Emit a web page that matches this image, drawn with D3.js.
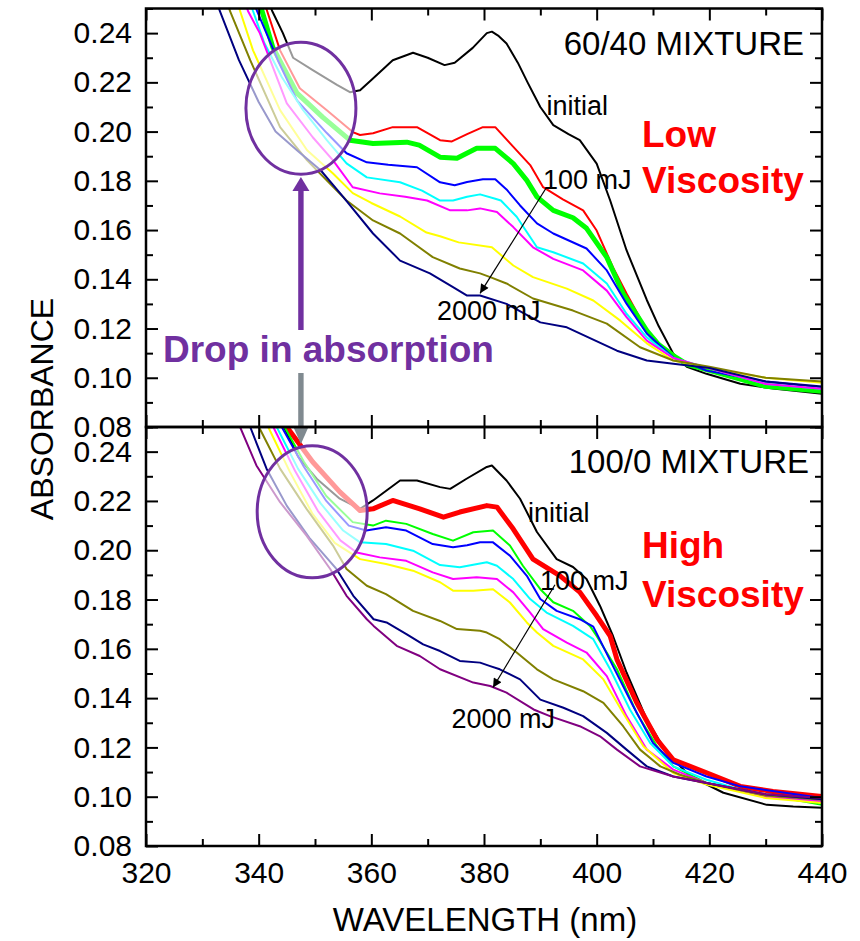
<!DOCTYPE html>
<html>
<head>
<meta charset="utf-8">
<script src="https://cdn.jsdelivr.net/npm/d3@7"></script>
<style>
  body { margin: 0; background: #fff; }
  text { font-family: "Liberation Sans", Arial, sans-serif; }
</style>
</head>
<body>
<svg id="chart" width="860" height="941"></svg>
<script>
// axis ticks
const wlMajor = [320, 340, 360, 380, 400, 420, 440];
const wlMinor = [330, 350, 370, 390, 410, 430];
const absMajor = [0.08, 0.10, 0.12, 0.14, 0.16, 0.18, 0.20, 0.22, 0.24];
const absMinor = [0.09, 0.11, 0.13, 0.15, 0.17, 0.19, 0.21, 0.23, 0.25];

// 60/40 mixture (top panel): [wavelength nm, absorbance]
const top_initial = [[341, 0.257], [342.4, 0.249], [344.3, 0.240], [346.1, 0.230], [349.6, 0.225], [353.9, 0.219], [356.2, 0.216], [358, 0.2168], [360, 0.221], [363.8, 0.229], [367.4, 0.232], [370, 0.230], [373, 0.227], [374.8, 0.228], [378, 0.234], [380.5, 0.240], [381.4, 0.2406], [382.5, 0.239], [384, 0.2358], [386, 0.228], [387.8, 0.2197], [390, 0.210], [392.3, 0.2026], [395, 0.199], [397, 0.1965], [400, 0.187], [402.4, 0.172], [405.3, 0.1518], [408.9, 0.1316], [411, 0.121], [413.6, 0.1098], [416, 0.1045], [419.5, 0.1016], [425.5, 0.0976], [431.3, 0.0956], [440, 0.0935]];
const top_red = [[340, 0.259], [341.5, 0.249], [343.8, 0.233], [347.3, 0.2176], [352.1, 0.2087], [356.7, 0.1998], [358, 0.1986], [360.3, 0.1993], [363.8, 0.2018], [368.1, 0.2018], [372.2, 0.1965], [374.3, 0.196], [377, 0.199], [379.8, 0.2018], [382, 0.2018], [384.6, 0.1953], [388.2, 0.1864], [390.5, 0.1774], [394, 0.1725], [397.6, 0.168], [400, 0.1598], [402.9, 0.1448], [405.3, 0.1342], [408.9, 0.1192], [411, 0.113], [413.6, 0.109], [416, 0.106], [420, 0.1035], [430, 0.0975], [440, 0.095]];
const top_green = [[339.2, 0.259], [340.6, 0.249], [342.5, 0.2343], [346.8, 0.2156], [351.4, 0.2058], [356.2, 0.1965], [360.3, 0.1952], [366.3, 0.1957], [368.5, 0.1945], [372.2, 0.1896], [375.2, 0.1892], [378.7, 0.1932], [382, 0.1932], [385.2, 0.187], [387.6, 0.1802], [389.4, 0.1735], [392.3, 0.168], [395.8, 0.165], [398.2, 0.1607], [401.8, 0.1489], [404.7, 0.1342], [408.9, 0.1192], [411, 0.1135], [413.6, 0.109], [416, 0.1055], [420, 0.103], [430, 0.0965], [440, 0.0945]];
const top_blue = [[338.3, 0.259], [339.7, 0.249], [343.4, 0.229], [346.8, 0.2127], [352.1, 0.1994], [355.6, 0.1912], [359.2, 0.1875], [363, 0.1865], [368.1, 0.1855], [372.2, 0.1794], [374.8, 0.1782], [377, 0.1795], [379.8, 0.1806], [382, 0.1806], [384, 0.1765], [386.4, 0.170], [389.4, 0.1627], [392.3, 0.1586], [398.2, 0.1525], [401.8, 0.1436], [405.3, 0.1301], [408.9, 0.118], [413.6, 0.1082], [419.5, 0.1029], [430, 0.0985], [440, 0.096]];
const top_cyan = [[337.6, 0.259], [339, 0.249], [341, 0.236], [344.1, 0.2222], [347.9, 0.2087], [352.1, 0.1965], [355.6, 0.1871], [359.2, 0.1814], [365.1, 0.1794], [369, 0.176], [372.2, 0.172], [374.5, 0.172], [377, 0.1735], [379.3, 0.1745], [382, 0.1727], [383, 0.172], [385.8, 0.1654], [389.4, 0.153], [392.3, 0.151], [397.6, 0.1464], [401.8, 0.1383], [405.3, 0.126], [408.9, 0.1164], [413.6, 0.108], [420, 0.1038], [430, 0.0975], [440, 0.0955]];
const top_magenta = [[337, 0.257], [338.1, 0.249], [340.2, 0.240], [345, 0.2115], [349.6, 0.1977], [353.2, 0.1883], [356.7, 0.1774], [361.5, 0.1749], [366, 0.1735], [369.9, 0.172], [374, 0.168], [377, 0.168], [379.3, 0.1688], [382.3, 0.1673], [385.2, 0.1612], [388.7, 0.153], [392.3, 0.1483], [397.6, 0.1436], [401.8, 0.1354], [405.3, 0.1246], [408.9, 0.1151], [413.6, 0.108], [420, 0.1038], [430, 0.0975], [440, 0.0955]];
const top_yellow = [[335.5, 0.258], [336.7, 0.249], [339, 0.233], [343.8, 0.2087], [348.6, 0.1924], [353.2, 0.183], [356.7, 0.175], [360, 0.171], [365.1, 0.1655], [369.8, 0.159], [372.2, 0.1575], [375.5, 0.155], [381.4, 0.153], [385.2, 0.1456], [388.7, 0.1409], [394.7, 0.1362], [399.4, 0.1314], [404.2, 0.1232], [408.9, 0.114], [413.6, 0.107], [420, 0.104], [430, 0.100], [440, 0.098]];
const top_olive = [[334, 0.256], [334.9, 0.249], [338.5, 0.229], [343.8, 0.2018], [348.6, 0.1883], [355.6, 0.172], [360.3, 0.1639], [365.1, 0.1586], [370.9, 0.149], [375.7, 0.1444], [379.3, 0.1424], [381.1, 0.1409], [384, 0.1383], [388.7, 0.1322], [395.8, 0.1273], [401.8, 0.122], [407.7, 0.1124], [413.6, 0.107], [420, 0.1045], [430, 0.100], [440, 0.0985]];
const top_navy = [[332, 0.257], [333.1, 0.249], [336.5, 0.229], [340, 0.212], [343, 0.200], [347, 0.192], [351, 0.1843], [355, 0.1735], [360.3, 0.1586], [365.1, 0.1476], [370.4, 0.1424], [374.5, 0.1368], [377, 0.1334], [379.3, 0.1334], [384, 0.130], [390, 0.1225], [394.7, 0.1205], [403.6, 0.111], [408.9, 0.107], [413.6, 0.1057], [420, 0.104], [430, 0.0985], [440, 0.0965]];

// 100/0 mixture (bottom panel)
const bot_initial = [[343, 0.258], [344.5, 0.25], [347, 0.238], [350.3, 0.229], [354.4, 0.2209], [358, 0.2168], [360.3, 0.2202], [365.1, 0.2283], [368.1, 0.2283], [372.2, 0.2256], [374, 0.2249], [376.9, 0.229], [380.5, 0.2338], [381.4, 0.2344], [384, 0.2283], [386.4, 0.2209], [389.4, 0.2074], [392.9, 0.1964], [395.8, 0.1932], [398.2, 0.1883], [400.6, 0.1774], [402.9, 0.1652], [405.3, 0.1504], [408.9, 0.1313], [412.4, 0.1179], [416.6, 0.1083], [422.5, 0.1016], [430.2, 0.0967], [434.9, 0.096], [440, 0.0955]];
const bot_red = [[344, 0.257], [345, 0.25], [349.6, 0.2358], [354.4, 0.2237], [358, 0.2161], [360.3, 0.2168], [363.8, 0.2202], [368.6, 0.2168], [372.8, 0.2134], [375.7, 0.2155], [380.5, 0.2181], [382.3, 0.2175], [385.2, 0.2086], [388.7, 0.1964], [393.5, 0.1896], [397, 0.183], [400, 0.1734], [402.4, 0.1652], [403.6, 0.1557], [407.1, 0.1382], [410.7, 0.1232], [413.6, 0.115], [419.5, 0.1097], [425.5, 0.1042], [431.3, 0.1021], [440, 0.1001]];
const bot_green = [[343.5, 0.257], [344.6, 0.25], [348, 0.236], [352, 0.222], [356.7, 0.2114], [360.3, 0.210], [362.6, 0.212], [366.2, 0.2107], [370.9, 0.2066], [374.5, 0.2039], [378.1, 0.2073], [381.6, 0.208], [384.6, 0.2019], [386.9, 0.1937], [390, 0.1842], [392.3, 0.1789], [395.8, 0.1754], [398.8, 0.1693], [400, 0.1652], [403.6, 0.1517], [407.1, 0.134], [410.7, 0.1205], [413.6, 0.1123], [419.5, 0.1056], [428.4, 0.1015], [440, 0.0967]];
const bot_blue = [[343, 0.257], [344.1, 0.25], [348, 0.234], [352, 0.220], [356, 0.210], [359.1, 0.208], [362.6, 0.2093], [366.2, 0.208], [370.9, 0.2025], [374.5, 0.2012], [377, 0.202], [379.3, 0.2032], [381.6, 0.2032], [384.6, 0.1978], [387.6, 0.1896], [390, 0.1802], [392.9, 0.1754], [397, 0.172], [399.4, 0.169], [402.9, 0.153], [406.5, 0.1367], [410, 0.1218], [413.6, 0.1137], [419.5, 0.1082], [425.5, 0.1042], [440, 0.0995]];
const bot_cyan = [[342, 0.257], [343.2, 0.25], [347, 0.233], [351, 0.219], [355, 0.208], [358, 0.2032], [362.6, 0.2025], [367.4, 0.1998], [372.2, 0.194], [375.7, 0.1931], [380.5, 0.1951], [382.3, 0.1937], [385.2, 0.1883], [388.2, 0.1802], [391.1, 0.1747], [395.8, 0.1693], [399.4, 0.1639], [402.4, 0.1517], [405.9, 0.1354], [409.5, 0.1218], [413.6, 0.1123], [419.5, 0.1069], [430, 0.100], [440, 0.0981]];
const bot_magenta = [[341.5, 0.257], [342.6, 0.25], [346.5, 0.232], [350.5, 0.216], [354.5, 0.204], [357.4, 0.1991], [361.5, 0.1971], [366.2, 0.1957], [370.9, 0.191], [374.5, 0.1883], [378.7, 0.189], [382.3, 0.1883], [385.2, 0.1829], [388.2, 0.1747], [390.5, 0.168], [394.7, 0.1625], [398.2, 0.1585], [401.8, 0.1489], [405.3, 0.1327], [408.9, 0.1191], [413.6, 0.111], [419.5, 0.1056], [430, 0.100], [440, 0.0981]];
const bot_yellow = [[340.5, 0.257], [341.7, 0.25], [345.5, 0.232], [349.5, 0.215], [353.5, 0.203], [358, 0.1964], [362.6, 0.1944], [367.4, 0.1917], [372.2, 0.187], [374.5, 0.1836], [378.1, 0.1836], [381.6, 0.1842], [384.6, 0.1788], [387.6, 0.1707], [389.4, 0.1666], [392.3, 0.1612], [397.6, 0.1557], [401.2, 0.1476], [404.7, 0.134], [408.3, 0.1205], [413.6, 0.1096], [419.5, 0.1049], [430, 0.0995], [440, 0.0974]];
const bot_olive = [[339, 0.256], [340.2, 0.2493], [343.8, 0.2331], [348.5, 0.2168], [353.2, 0.2019], [355.6, 0.1924], [359.2, 0.1856], [362.6, 0.1822], [367.4, 0.1754], [372.2, 0.1713], [375.2, 0.168], [379.3, 0.1673], [380.5, 0.1666], [382.8, 0.1639], [385.8, 0.1585], [389.4, 0.1517], [392.3, 0.1476], [397.6, 0.1428], [401.2, 0.1381], [404.7, 0.1286], [407.7, 0.1191], [411.3, 0.1123], [414.8, 0.1089], [419.5, 0.1056], [430, 0.1005], [440, 0.0988]];
const bot_navy = [[337.5, 0.256], [338.5, 0.25], [341.4, 0.2331], [345, 0.218], [349, 0.205], [353.8, 0.1924], [356.8, 0.1815], [360.4, 0.172], [362.7, 0.1707], [366.3, 0.1659], [369.2, 0.1618], [372.2, 0.1591], [375.7, 0.1551], [379.3, 0.1544], [381.1, 0.153], [382.8, 0.1517], [386.4, 0.1476], [390, 0.1394], [394.1, 0.1361], [397.6, 0.1327], [401.8, 0.1259], [405.3, 0.1191], [408.9, 0.1123], [413.6, 0.1082], [419.5, 0.1056], [430, 0.101], [440, 0.099]];
const bot_purple = [[335.8, 0.256], [336.7, 0.25], [339.6, 0.2344], [343.8, 0.2195], [348.5, 0.2059], [352.7, 0.1924], [355.6, 0.1815], [359.2, 0.172], [360.4, 0.1693], [364.5, 0.1612], [368.6, 0.1571], [372.2, 0.1517], [378.1, 0.1463], [381.1, 0.1449], [384, 0.1422], [388.8, 0.1354], [391.7, 0.1327], [397, 0.1286], [400.6, 0.1245], [403.6, 0.1191], [407.7, 0.1123], [413.6, 0.1082], [419.5, 0.1056], [430, 0.101], [440, 0.0995]];

const topSeriesData = [top_initial, top_red, top_green, top_blue, top_cyan, top_magenta, top_yellow, top_olive, top_navy];
const botSeriesData = [bot_initial, bot_red, bot_green, bot_blue, bot_cyan, bot_magenta, bot_yellow, bot_olive, bot_navy, bot_purple];

// dose arrows, 100 mJ -> 2000 mJ: [wavelength, absorbance]
const topDoseArrow = [[391.0, 0.1770], [379.3, 0.1343]];
const botDoseArrow = [[392.6, 0.1860], [381.6, 0.1443]];

const seriesColors = ['#000000', '#ff0000', '#00ff00', '#0000ff', '#00ffff', '#ff00ff', '#ffff00', '#808000', '#000080', '#800080'];

const svg = d3.select('#chart');
const left = 146, right = 822;
const panels = [
  { id: 'top', y0: 8.5, h: 418.5, series: topSeriesData, thick: 2, title: '60/40 MIXTURE', arrow: topDoseArrow },
  { id: 'bot', y0: 427, h: 419, series: botSeriesData, thick: 1, title: '100/0 MIXTURE', arrow: botDoseArrow }
];

const xScale = d3.scaleLinear().domain([320, 440]).range([left, right]);

svg.append('defs').append('marker')
  .attr('id', 'head')
  .attr('viewBox', '0 0 10 10')
  .attr('refX', 10).attr('refY', 5)
  .attr('markerUnits', 'userSpaceOnUse')
  .attr('markerWidth', 12).attr('markerHeight', 9)
  .attr('orient', 'auto')
  .append('path').attr('d', 'M0,0 L10,5 L0,10 Z').attr('fill', '#000');

panels.forEach(p => {
  const yScale = d3.scaleLinear().domain([0.08, 0.25]).range([p.y0 + p.h, p.y0]);
  p.yScale = yScale;

  svg.select('defs').append('clipPath').attr('id', 'clip-' + p.id)
    .append('rect').attr('x', left).attr('y', p.y0).attr('width', right - left).attr('height', p.h);

  const line = d3.line()
    .x(d => xScale(d[0]))
    .y(d => yScale(d[1]))
    .curve(d3.curveLinear);

  const g = svg.append('g').attr('clip-path', `url(#clip-${p.id})`);
  g.selectAll('path.series')
    .data(p.series)
    .enter().append('path')
    .attr('class', 'series')
    .attr('fill', 'none')
    .attr('stroke', (d, i) => seriesColors[i])
    .attr('stroke-width', (d, i) => i === p.thick ? 5 : 2)
    .attr('stroke-linejoin', 'round')
    .attr('d', line);
});

// highlight ellipses (fade the lines under them)
const ellipses = [{ cx: 347.5, p: 0, cy: 0.2095 }, { cx: 349.5, p: 1, cy: 0.2156 }];
ellipses.forEach(e => {
  const ys = panels[e.p].yScale;
  svg.append('ellipse')
    .attr('cx', xScale(e.cx)).attr('cy', ys(e.cy))
    .attr('rx', 55).attr('ry', 66)
    .attr('fill', '#ffffff').attr('fill-opacity', 0.6)
    .attr('stroke', '#7030a0').attr('stroke-width', 3);
});

// big arrows
const ax = xScale(347.5);
svg.append('rect').attr('x', ax - 2.7).attr('y', 189).attr('width', 5.4).attr('height', 141).attr('fill', '#7030a0');
svg.append('path').attr('d', `M${ax - 8.5},191 L${ax + 8.5},191 L${ax},177 Z`).attr('fill', '#7030a0');
svg.append('rect').attr('x', ax - 2.7).attr('y', 373).attr('width', 5.4).attr('height', 55).attr('fill', '#808a90');
svg.append('path').attr('d', `M${ax - 8},426 L${ax + 8},426 L${ax},444 Z`).attr('fill', '#808a90');

svg.append('text')
  .attr('x', 163).attr('y', 362)
  .attr('font-size', 37).attr('font-weight', 'bold')
  .attr('fill', '#7030a0')
  .text('Drop in absorption');

// frames, axes, annotations
panels.forEach((p, pi) => {
  const yScale = p.yScale;
  const g = svg.append('g');
  const bottomY = p.y0 + p.h;

  const addAxis = (axis, tx, ty) => {
    const a = g.append('g').attr('transform', `translate(${tx},${ty})`).call(axis);
    a.select('.domain').remove();
    a.selectAll('.tick line').attr('stroke', '#000').attr('stroke-width', 2);
    a.selectAll('text').attr('font-size', 30).attr('fill', '#000')
      .style('font-family', '"Liberation Sans", Arial, sans-serif');
    return a;
  };

  addAxis(d3.axisLeft(yScale).tickValues(absMajor).tickSize(-12).tickPadding(14).tickFormat(d3.format('.2f')), left, 0);
  addAxis(d3.axisLeft(yScale).tickValues(absMinor).tickSize(-7).tickFormat(''), left, 0);
  addAxis(d3.axisRight(yScale).tickValues(absMajor).tickSize(-12).tickFormat(''), right, 0);
  addAxis(d3.axisRight(yScale).tickValues(absMinor).tickSize(-7).tickFormat(''), right, 0);
  addAxis(d3.axisTop(xScale).tickValues(wlMajor).tickSize(-12).tickFormat(''), 0, p.y0);
  addAxis(d3.axisTop(xScale).tickValues(wlMinor).tickSize(-7).tickFormat(''), 0, p.y0);
  addAxis(d3.axisBottom(xScale).tickValues(wlMajor).tickSize(-12).tickPadding(16)
    .tickFormat(pi === 1 ? d3.format('d') : ''), 0, bottomY);
  addAxis(d3.axisBottom(xScale).tickValues(wlMinor).tickSize(-7).tickFormat(''), 0, bottomY);

  g.append('rect')
    .attr('x', left).attr('y', p.y0)
    .attr('width', right - left).attr('height', p.h)
    .attr('fill', 'none').attr('stroke', '#000').attr('stroke-width', 2.5);

  // 100 mJ -> 2000 mJ arrow
  g.append('line')
    .attr('x1', xScale(p.arrow[0][0])).attr('y1', yScale(p.arrow[0][1]))
    .attr('x2', xScale(p.arrow[1][0])).attr('y2', yScale(p.arrow[1][1]))
    .attr('stroke', '#000').attr('stroke-width', 1.2)
    .attr('marker-end', 'url(#head)');

  g.append('text')
    .attr('x', pi === 0 ? 804 : 809).attr('y', p.y0 + (pi === 0 ? 46.5 : 46))
    .attr('text-anchor', 'end').attr('font-size', 33)
    .text(p.title);
});

// dose labels
const labels = [
  { t: 'initial', x: 546.5, y: 115 },
  { t: '100 mJ', x: 543, y: 189 },
  { t: '2000 mJ', x: 437, y: 320 },
  { t: 'initial', x: 528, y: 522 },
  { t: '100 mJ', x: 540, y: 590 },
  { t: '2000 mJ', x: 451.5, y: 728 }
];
svg.selectAll('text.dose')
  .data(labels)
  .enter().append('text')
  .attr('class', 'dose')
  .attr('x', d => d.x).attr('y', d => d.y)
  .attr('font-size', 27)
  .text(d => d.t);

const redLabels = [
  { t: 'Low', y: 147 }, { t: 'Viscosity', y: 193 },
  { t: 'High', y: 558 }, { t: 'Viscosity', y: 607 }
];
svg.selectAll('text.visc')
  .data(redLabels)
  .enter().append('text')
  .attr('class', 'visc')
  .attr('x', 642).attr('y', d => d.y)
  .attr('font-size', 37).attr('font-weight', 'bold')
  .attr('fill', '#ff0000')
  .text(d => d.t);

// axis titles
svg.append('text')
  .attr('transform', 'translate(53,409) rotate(-90)')
  .attr('text-anchor', 'middle').attr('font-size', 32)
  .text('ABSORBANCE');
svg.append('text')
  .attr('x', 485).attr('y', 931)
  .attr('text-anchor', 'middle').attr('font-size', 33)
  .text('WAVELENGTH (nm)');
</script>
</body>
</html>
